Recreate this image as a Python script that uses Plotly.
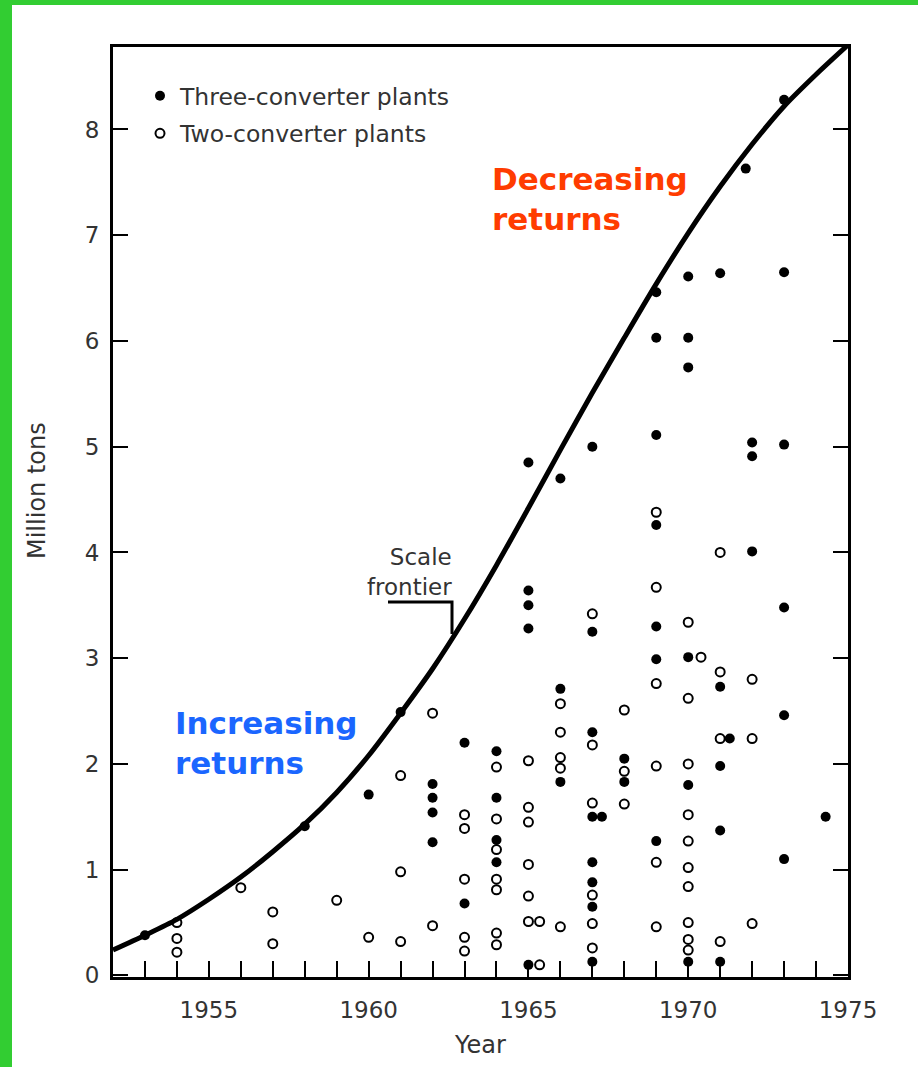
import plotly.graph_objects as go

# ---------------- data ----------------
three_years = [1953, 1958, 1960, 1961,
               1962, 1962, 1962, 1962,
               1963, 1963,
               1964, 1964, 1964, 1964,
               1965, 1965, 1965, 1965, 1965,
               1966, 1966, 1966,
               1967, 1967, 1967, 1967, 1967, 1967, 1967, 1967, 1967.3,
               1968, 1968,
               1969, 1969, 1969, 1969, 1969, 1969, 1969,
               1970, 1970, 1970, 1970, 1970, 1970,
               1971, 1971, 1971, 1971, 1971, 1971.3, 1971.8,
               1972, 1972, 1972,
               1973, 1973, 1973, 1973, 1973, 1973,
               1974.3]
three_tons = [0.38, 1.41, 1.71, 2.49,
              1.81, 1.68, 1.54, 1.26,
              2.20, 0.68,
              2.12, 1.68, 1.28, 1.07,
              4.85, 3.64, 3.50, 3.28, 0.10,
              4.70, 2.71, 1.83,
              5.00, 3.25, 2.30, 1.50, 1.07, 0.88, 0.65, 0.13, 1.50,
              2.05, 1.83,
              6.46, 6.03, 5.11, 4.26, 3.30, 2.99, 1.27,
              6.61, 6.03, 5.75, 3.01, 1.80, 0.13,
              6.64, 2.73, 1.98, 1.37, 0.13, 2.24, 7.63,
              5.04, 4.91, 4.01,
              8.28, 6.65, 5.02, 3.48, 2.46, 1.10,
              1.50]

two_years = [1954, 1954, 1954, 1956, 1957, 1957, 1959, 1960,
             1961, 1961, 1961, 1962, 1962,
             1963, 1963, 1963, 1963, 1963,
             1964, 1964, 1964, 1964, 1964, 1964, 1964,
             1965, 1965, 1965, 1965, 1965, 1965, 1965.35, 1965.35,
             1966, 1966, 1966, 1966, 1966,
             1967, 1967, 1967, 1967, 1967, 1967,
             1968, 1968, 1968,
             1969, 1969, 1969, 1969, 1969, 1969,
             1970, 1970, 1970, 1970, 1970, 1970, 1970, 1970, 1970, 1970, 1970.4,
             1971, 1971, 1971, 1971,
             1972, 1972, 1972]
two_tons = [0.50, 0.35, 0.22, 0.83, 0.60, 0.30, 0.71, 0.36,
            1.89, 0.98, 0.32, 2.48, 0.47,
            1.52, 1.39, 0.91, 0.36, 0.23,
            1.97, 1.48, 1.19, 0.91, 0.81, 0.40, 0.29,
            2.03, 1.59, 1.45, 1.05, 0.75, 0.51, 0.51, 0.10,
            2.57, 2.30, 2.06, 1.96, 0.46,
            3.42, 2.18, 1.63, 0.76, 0.49, 0.26,
            2.51, 1.93, 1.62,
            4.38, 3.67, 2.76, 1.98, 1.07, 0.46,
            3.34, 2.62, 2.00, 1.52, 1.27, 1.02, 0.84, 0.50, 0.34, 0.24, 3.01,
            4.00, 2.87, 2.24, 0.32,
            2.80, 2.24, 0.49]

frontier_years = [1952, 1953, 1954, 1955, 1956, 1957, 1958, 1959, 1960, 1961,
                  1962, 1963, 1964, 1965, 1966, 1967, 1968, 1969, 1970, 1971,
                  1972, 1973, 1974, 1975]
frontier_tons = [0.24, 0.38, 0.53, 0.72, 0.93, 1.17, 1.43, 1.73, 2.08, 2.48,
                 2.90, 3.37, 3.88, 4.42, 4.97, 5.51, 6.03, 6.54, 7.02, 7.46,
                 7.86, 8.22, 8.52, 8.80]

x_tick_labels = ["1955", "1960", "1965", "1970", "1975"]
y_tick_values = [0, 1, 2, 3, 4, 5, 6, 7, 8]

# ---------------- layout constants ----------------
W, H = 918, 1067
ML, MR, MT, MB = 113, 70, 47, 90
PW, PH = W - ML - MR, H - MT - MB
FONT = "DejaVu Sans"
TXT = "#333333"
GREEN = "#32cd32"


def px_x(p):
    return (p - ML) / PW


def px_y(p):
    return (H - MB - p) / PH


fig = go.Figure()

fig.add_trace(go.Scatter(
    x=frontier_years, y=frontier_tons, mode="lines",
    line=dict(color="black", width=5, shape="spline", smoothing=0.8),
    showlegend=False, hoverinfo="skip"))

fig.add_trace(go.Scatter(
    x=three_years, y=three_tons, mode="markers", name="Three-converter plants",
    marker=dict(symbol="circle", size=10, color="black", line=dict(width=0)),
    legendgroup="a"))

fig.add_trace(go.Scatter(
    x=two_years, y=two_tons, mode="markers", name="Two-converter plants",
    marker=dict(symbol="circle-open", size=9, color="black", line=dict(width=2)),
    legendgroup="b"))

fig.update_xaxes(
    range=[1952, 1975],
    tickmode="array", tickvals=[int(t) for t in x_tick_labels], ticktext=x_tick_labels,
    ticks="inside", ticklen=16, tickwidth=2, tickcolor="black",
    minor=dict(dtick=1, tick0=1952, ticks="inside", ticklen=16, tickwidth=2, tickcolor="black"),
    showline=True, linewidth=3, linecolor="black", mirror=True,
    showgrid=False, zeroline=False,
    tickfont=dict(family=FONT, size=23, color=TXT),
    ticklabelstandoff=10,
)
fig.update_yaxes(
    range=[-0.015, 8.78],
    tickmode="array", tickvals=y_tick_values, ticktext=[str(v) for v in y_tick_values],
    ticks="inside", ticklen=15, tickwidth=2, tickcolor="black",
    showline=True, linewidth=3, linecolor="black", mirror="ticks",
    showgrid=False, zeroline=False,
    tickfont=dict(family=FONT, size=23, color=TXT),
    ticklabelstandoff=6,
)

annotations = [
    dict(text="Decreasing<br>returns", x=px_x(490), y=px_y(199), xref="paper", yref="paper",
         xanchor="left", yanchor="middle", align="left", showarrow=False,
         font=dict(family=FONT, size=31, color="#ff3c00", weight="bold")),
    dict(text="Increasing<br>returns", x=px_x(173), y=px_y(743), xref="paper", yref="paper",
         xanchor="left", yanchor="middle", align="left", showarrow=False,
         font=dict(family=FONT, size=31, color="#1a66ff", weight="bold")),
    dict(text="Scale<br>frontier", x=px_x(454), y=px_y(572), xref="paper", yref="paper",
         xanchor="right", yanchor="middle", align="right", showarrow=False,
         font=dict(family=FONT, size=23, color=TXT)),
    dict(text="Million tons", x=px_x(37), y=px_y(491), xref="paper", yref="paper",
         xanchor="center", yanchor="middle", textangle=-90, showarrow=False,
         font=dict(family=FONT, size=24, color=TXT)),
    dict(text="Year", x=px_x(480), y=px_y(1045), xref="paper", yref="paper",
         xanchor="center", yanchor="middle", showarrow=False,
         font=dict(family=FONT, size=24, color=TXT)),
]

shapes = [
    # leader line from the "Scale frontier" label to the curve
    dict(type="path", xref="paper", yref="paper",
         path=f"M {px_x(388)} {px_y(602)} L {px_x(452)} {px_y(602)} L {px_x(452)} {px_y(634)}",
         line=dict(color="black", width=3)),
    # green frame strips (left and top)
    dict(type="rect", xref="paper", yref="paper", x0=px_x(0), x1=px_x(12), y0=px_y(H), y1=px_y(0),
         fillcolor=GREEN, line=dict(width=0)),
    dict(type="rect", xref="paper", yref="paper", x0=px_x(0), x1=px_x(W), y0=px_y(5), y1=px_y(0),
         fillcolor=GREEN, line=dict(width=0)),
]

fig.update_layout(
    width=W, height=H,
    margin=dict(l=ML, r=MR, t=MT, b=MB),
    paper_bgcolor="white", plot_bgcolor="white",
    font=dict(family=FONT, color=TXT),
    showlegend=True,
    legend=dict(x=px_x(140), y=px_y(74), xanchor="left", yanchor="top",
                bgcolor="rgba(0,0,0,0)", borderwidth=0,
                font=dict(family=FONT, size=23.5, color=TXT),
                tracegroupgap=4, traceorder="grouped", itemwidth=30),
    annotations=annotations,
    shapes=shapes,
)

fig.write_html("out.html")
